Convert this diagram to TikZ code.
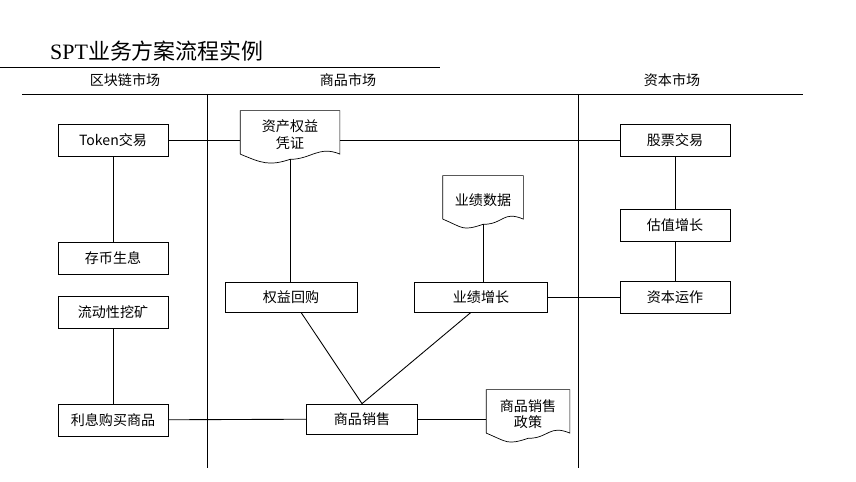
\documentclass[tikz,border=0pt]{standalone}
\usepackage{fontspec}
\setmainfont{Liberation Serif}
\newfontfamily\cjk{Noto Sans CJK SC}
\usetikzlibrary{positioning}
\tikzset{
  box/.style={draw, minimum width=110*0.02cm, minimum height=32*0.02cm, inner sep=1pt, font=\cjk\fontsize{8}{9.5}\selectfont},
  doc/.style={minimum width=#1, minimum height=48*0.02cm, inner sep=1pt, align=center, font=\cjk\fontsize{8}{9.5}\selectfont},
  link/.style={draw, line width=0.5pt}
}
% document shape with wavy bottom
\newcommand{\docframe}[1]{%
  \draw ([yshift=3pt]#1.south west) -- (#1.north west) -- (#1.north east) -- ([yshift=3pt]#1.south east)
    .. controls ([xshift=-12pt,yshift=8pt]#1.south east) and ([xshift=12pt,yshift=0pt]#1.south) .. (#1.south)
    .. controls ([xshift=-12pt,yshift=-4pt]#1.south) and ([xshift=12pt,yshift=-2pt]#1.south west) .. ([yshift=3pt]#1.south west);}
\begin{document}
\begin{tikzpicture}[x=0.02cm, y=-0.02cm]
  \useasboundingbox (0,0) rectangle (856,482);
  % title and lanes
  \node[anchor=west, font=\cjk\fontsize{12.5}{14}\selectfont] (title) at (44,51) {\fontspec{Liberation Serif}SPT\cjk 业务方案流程实例};
  \draw (0,67) -- (440,67);
  \draw (22,94) -- (803,94);
  \draw (207,94) -- (207,468);
  \draw (578,94) -- (578,468);
  \node[font=\cjk\fontsize{8}{9.5}\selectfont] (h1) at (125,80) {区块链市场};
  \node[font=\cjk\fontsize{8}{9.5}\selectfont] (h2) at (348,80) {商品市场};
  \node[font=\cjk\fontsize{8}{9.5}\selectfont] (h3) at (672,80) {资本市场};
  % left lane
  \node[box] (token) at (113,140) {Token交易};
  \node[box] (cunbi) at (113,258) {存币生息};
  \node[box] (wakuang) at (113,312) {流动性挖矿};
  \node[box] (lixi) at (113,420) {利息购买商品};
  % middle lane
  \node[doc=99*0.02cm] (zichan) at (290,135) {资产权益\\凭证};
  \docframe{zichan}
  \node[doc=80*0.02cm] (shuju) at (483,200) {业绩数据};
  \docframe{shuju}
  \node[box, minimum width=132*0.02cm, minimum height=30*0.02cm] (huigou) at (291,297) {权益回购};
  \node[box, minimum width=133*0.02cm, minimum height=30*0.02cm] (zengzhang) at (481,297) {业绩增长};
  \node[box, minimum width=111*0.02cm, minimum height=30*0.02cm] (xiaoshou) at (362,419) {商品销售};
  \node[doc=83*0.02cm] (zhengce) at (528,414) {商品销售\\政策};
  \docframe{zhengce}
  % right lane
  \node[box] (gupiao) at (675,140) {股票交易};
  \node[box] (guzhi) at (675,225) {估值增长};
  \node[box] (yunzuo) at (675,297) {资本运作};
  % links
  \draw[link] (token) -- (zichan.west |- token);
  \draw[link] (zichan.east |- gupiao) -- (gupiao);
  \draw[link] (token) -- (cunbi);
  \draw[link] (wakuang) -- (lixi);
  \draw[link] (lixi) -- (xiaoshou);
  \draw[link] (xiaoshou) -- (zhengce.west |- xiaoshou);
  \draw[link] (zichan.south) -- (huigou.north -| zichan.south);
  \draw[link] (shuju.south) -- (zengzhang.north -| shuju.south);
  \draw[link] ([xshift=10*0.02cm]huigou.south) -- (xiaoshou.north);
  \draw[link] ([xshift=-10*0.02cm]zengzhang.south) -- (xiaoshou.north);
  \draw[link] (zengzhang) -- (yunzuo);
  \draw[link] (gupiao) -- (guzhi);
  \draw[link] (guzhi) -- (yunzuo);
\end{tikzpicture}
\end{document}
